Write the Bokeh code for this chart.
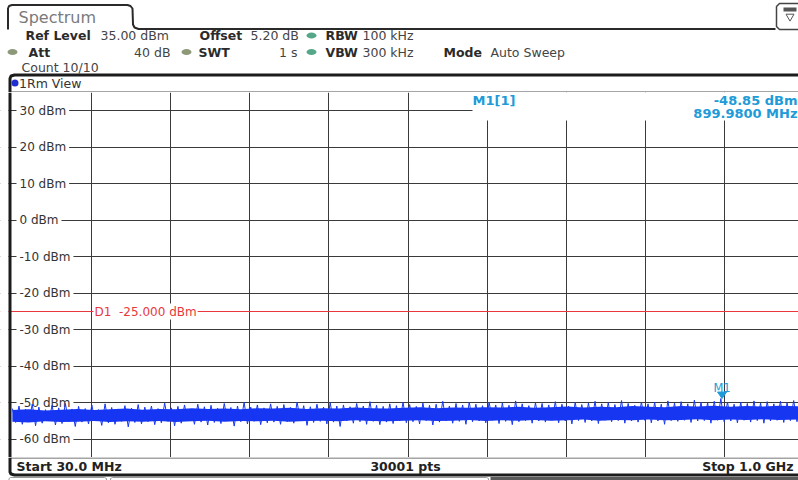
import numpy as np
from bokeh.plotting import figure
from bokeh.layouts import column
from bokeh.models import Range1d, FixedTicker
from bokeh.core.properties import value
from bokeh.embed import file_html
from bokeh.resources import INLINE

# ---------------- data ----------------
START_MHZ = 30.0
STOP_MHZ = 1000.0
SWEEP_POINTS = 30001
REF_LEVEL = 35.0
OFFSET_DB = 5.20
RBW_KHZ = 100
VBW_KHZ = 300
ATT_DB = 40
SWT_S = 1
COUNT = "10/10"
D1_LEVEL = -25.0
MARKER_FREQ = 899.98
MARKER_LEVEL = -48.85

y_tick_values = [30, 20, 10, 0, -10, -20, -30, -40, -50, -60]
y_tick_labels = ["30 dBm", "20 dBm", "10 dBm", "0 dBm", "-10 dBm", "-20 dBm",
                 "-30 dBm", "-40 dBm", "-50 dBm", "-60 dBm"]

# dense core of the noise band (MHz, dBm)
core_freq = [30, 50, 70, 90, 110, 130, 150, 170, 190, 210, 230, 250, 270, 290, 310,
             330, 350, 370, 390, 410, 430, 450, 470, 490, 510, 530, 550, 570, 590,
             610, 630, 650, 670, 690, 710, 730, 750, 770, 790, 810, 830, 850, 870,
             890, 910, 930, 950, 970, 1000]
core_upper = [-52.0, -51.8, -52.1, -51.9, -51.7, -52.0, -51.8, -51.6, -51.9, -51.7,
              -51.8, -51.5, -51.7, -51.6, -51.8, -51.5, -51.6, -51.4, -51.7, -51.5,
              -51.6, -51.3, -51.5, -51.6, -51.4, -51.2, -51.5, -51.3, -51.4, -51.2,
              -51.3, -51.1, -51.4, -51.2, -51.0, -51.3, -51.1, -51.2, -50.9, -51.1,
              -51.2, -50.9, -51.0, -50.8, -51.1, -50.9, -51.0, -50.8, -51.0]
core_lower = [-55.2, -55.4, -55.1, -55.3, -55.2, -55.0, -55.3, -55.1, -55.2, -55.0,
              -55.3, -55.1, -54.9, -55.2, -55.0, -55.1, -54.9, -55.2, -55.0, -54.9,
              -55.1, -54.8, -55.0, -55.1, -54.9, -54.8, -55.0, -54.9, -54.7, -55.0,
              -54.8, -54.9, -54.7, -54.9, -54.8, -54.6, -54.9, -54.7, -54.8, -54.6,
              -54.8, -54.7, -54.5, -54.8, -54.6, -54.7, -54.5, -54.7, -54.6]

# trace samples (peaks and dips of the noise, left to right)
trace_levels = [
    -51.6, -55.4, -50.9, -55.9, -51.8, -55.1, -50.4, -56.3, -51.2, -55.6, -51.9, -55.0, -50.7, -56.1, -51.4, -55.7, -50.2, -55.2, -51.7, -56.5,
    -51.0, -55.3, -51.6, -55.8, -50.6, -55.0, -51.9, -56.2, -50.3, -55.5, -51.3, -55.9, -51.7, -55.1, -50.8, -56.6, -51.5, -55.4, -50.5, -55.8,
    -51.2, -55.2, -50.9, -56.0, -51.6, -55.5, -50.1, -55.1, -51.4, -56.3, -51.0, -55.6, -50.6, -55.0, -51.8, -55.9, -50.4, -55.3, -51.1, -56.1,
    -50.7, -55.4, -51.5, -55.7, -50.2, -55.0, -51.3, -56.4, -50.9, -55.2, -49.9, -55.8, -51.2, -55.1, -50.6, -56.0, -51.4, -55.5, -50.3, -55.3,
    -51.0, -55.9, -50.5, -55.2, -51.3, -55.6, -49.8, -55.0, -50.8, -56.2, -51.1, -55.4, -50.4, -55.1, -51.2, -55.8, -50.0, -55.3, -50.9, -56.5,
    -50.6, -55.0, -51.1, -55.6, -50.2, -55.2, -50.9, -55.9, -49.7, -55.1, -50.7, -56.0, -51.0, -55.3, -50.3, -55.7, -50.8, -55.0, -49.9, -55.5,
    -50.5, -55.2, -51.0, -55.8, -50.1, -54.9, -50.7, -56.1, -50.4, -55.3, -49.6, -55.0, -50.9, -55.6, -50.2, -55.1, -50.6, -55.9, -49.8, -55.2,
    -50.4, -55.0, -50.8, -55.5, -49.9, -54.8, -50.6, -55.7, -50.1, -55.1, -50.7, -56.0, -49.5, -55.2, -50.3, -54.9, -50.8, -55.6, -50.0, -55.0,
    -50.2, -55.3, -50.6, -54.8, -49.7, -55.5, -50.4, -55.0, -50.9, -55.8, -49.9, -54.9, -50.5, -55.4, -50.1, -55.0, -49.6, -55.7, -50.3, -54.8,
    -50.0, -55.2, -50.5, -54.9, -49.4, -55.6, -50.2, -55.0, -50.7, -55.3, -49.8, -54.8, -50.3, -55.5, -49.9, -55.0, -50.4, -55.9, -49.5, -54.9,
    -50.1, -55.1, -49.7, -54.8, -50.3, -55.4, -49.3, -55.0, -49.9, -54.9, -50.0, -55.6, -49.6, -54.8, -48.85, -55.2, -49.8, -55.0, -50.4, -55.5,
    -49.9, -54.8, -50.2, -55.3, -49.5, -54.9, -50.1, -55.6, -49.7, -55.0, -50.3, -54.8, -49.6, -55.4, -50.0, -54.9, -49.4, -55.2, -50.2, -55.0,
]

# ---------------- styling ----------------
FONT = value("DejaVu Sans")
W = 798
BLUE = "#1636f2"
MK_BLUE = "#219bd8"
RED = "#e8383d"
GRID = "#3a3a3a"
DARK = "#1c1c1c"

# screen layout of the main diagram (page pixels)
PX_DIV = 79.125              # px per horizontal division (10 divisions)
PX_30 = 11.875               # page x of the start frequency
FRAME_T, FRAME_B = 92, 457
PX_PER_DB = (FRAME_B - FRAME_T) / 100.0
MHZ_PER_PX = (STOP_MHZ - START_MHZ) / (10 * PX_DIV)


def px2x(px):
    return START_MHZ + (px - PX_30) * MHZ_PER_PX


def py2y(py):
    return REF_LEVEL - (py - FRAME_T) / PX_PER_DB


def txt(p, xs, ys, texts, size, color, bold=False, align="left", baseline="middle", **kw):
    p.text(x=xs, y=ys, text=texts, text_font=FONT, text_font_size=size,
           text_color=color, text_font_style="bold" if bold else "normal",
           text_align=align, text_baseline=baseline, **kw)


def deco_fig(height, y0, y1):
    f = figure(width=W, height=height, x_range=Range1d(0, W), y_range=Range1d(y1, y0),
               x_axis_location=None, y_axis_location=None, toolbar_location=None,
               output_backend="svg", min_border=0, outline_line_color=None,
               background_fill_color="white", border_fill_color="white")
    f.grid.visible = False
    return f


# ---------------- header (page y 0..92) ----------------
hdr = deco_fig(FRAME_T, 0, FRAME_T)
# tab outline
hdr.line([7.5, 7.5, 8.5, 11.5, 127, 130, 132, 132.5, 134, 138, 775],
         [29, 8, 5.5, 4.5, 4.5, 5.5, 8, 24, 27, 28.5, 28.5], line_color="#2a2a2a", line_width=2)
txt(hdr, [18], [16.5], ["Spectrum"], "16px", "#7a7a7a")
# icon box at top right
hdr.line([800, 779, 776, 776, 779, 800], [29, 29, 26, 6, 3, 3], line_color="#444", line_width=1.5)
hdr.quad(left=[783], right=[796], top=[7], bottom=[11], fill_color="#555", line_color=None)
hdr.scatter([789.5], [16], marker="inverted_triangle", size=8, fill_color=None, line_color="#555")

bold_items = [("Ref Level", 25, 35), ("Offset", 199, 35), ("RBW", 325, 35),
              ("Att", 28, 51.5), ("SWT", 198, 51.5), ("VBW", 325, 51.5), ("Mode", 443, 51.5)]
txt(hdr, [b[1] for b in bold_items], [b[2] for b in bold_items], [b[0] for b in bold_items],
    "12.5px", "#2b2b2b", bold=True)
left_vals = [(f"{REF_LEVEL:.2f} dBm", 100, 35), (f"{OFFSET_DB:.2f} dB", 250, 35),
             (f"{RBW_KHZ} kHz", 362, 35), (f"{VBW_KHZ} kHz", 362, 51.5),
             ("Auto Sweep", 490, 51.5), (f"Count {COUNT}", 21, 67)]
txt(hdr, [v[1] for v in left_vals], [v[2] for v in left_vals], [v[0] for v in left_vals],
    "12.5px", "#444444")
right_vals = [(f"{ATT_DB} dB", 170, 51.5), (f"{SWT_S} s", 297, 51.5)]
txt(hdr, [v[1] for v in right_vals], [v[2] for v in right_vals], [v[0] for v in right_vals],
    "12.5px", "#444444", align="right")
hdr.ellipse(x=[311, 12, 186, 311], y=[35, 51.5, 51.5, 51.5], width=10, height=6,
            fill_color=["#56a78a", "#8c9878", "#8c9878", "#56a78a"], line_color=None)
# diagram box top + left border + title row
hdr.line([9.5, 9.5, 10.5, 14, 798], [92, 78, 75.5, 74.5, 74.5], line_color=DARK, line_width=3)
hdr.line([10, 798], [91.5, 91.5], line_color="#4a4a4a", line_width=1)
hdr.scatter([14.5], [82.5], marker="circle", size=7, fill_color="#1f2fd0", line_color=None)
txt(hdr, [18.5], [82.5], ["1Rm View"], "12.5px", "#333333")

# ---------------- main diagram (page y 92..457) ----------------
main = figure(width=W, height=FRAME_B - FRAME_T,
              x_range=Range1d(px2x(0), px2x(W)),
              y_range=Range1d(REF_LEVEL - 100, REF_LEVEL),
              x_axis_location=None, y_axis_location=None, toolbar_location=None,
              output_backend="svg", min_border=0, border_fill_color="white",
              background_fill_color="white", outline_line_color=None)
div = (STOP_MHZ - START_MHZ) / 10
main.xgrid.ticker = FixedTicker(ticks=[START_MHZ + k * div for k in range(1, 10)])
main.ygrid.ticker = FixedTicker(ticks=y_tick_values)
for g in (main.xgrid, main.ygrid):
    g.grid_line_color = GRID
    g.grid_line_width = 1
    g.grid_line_alpha = 1

# marker readout box (hides the grid behind it)
main.quad(left=[px2x(472)], right=[STOP_MHZ], top=[REF_LEVEL], bottom=[py2y(120)],
          fill_color="white", line_color=None)

# level labels inside the diagram
txt(main, [START_MHZ] * len(y_tick_values), y_tick_values, y_tick_labels, "12px", "#333333",
    x_offset=16 - PX_30, background_fill_color="white", padding=3)

# display line D1
main.hspan(y=[D1_LEVEL], line_color=RED, line_width=1)
txt(main, [START_MHZ + div], [D1_LEVEL], [f"D1\u00a0\u00a0{D1_LEVEL:.3f} dBm"], "12px", RED,
    x_offset=2, background_fill_color="white", padding=1)

# page margin (white) and left border of the diagram box (dark)
main.quad(left=[px2x(0)], right=[px2x(8)], top=[REF_LEVEL], bottom=[REF_LEVEL - 100],
          fill_color="white", line_color=None)
main.quad(left=[px2x(8)], right=[px2x(11)], top=[REF_LEVEL], bottom=[REF_LEVEL - 100],
          fill_color=DARK, line_color=None)

# trace
trace_freq = np.linspace(START_MHZ, STOP_MHZ, len(trace_levels))
main.varea(x=core_freq, y1=core_lower, y2=core_upper, fill_color=BLUE)
main.line(trace_freq, trace_levels, line_color=BLUE, line_width=1)

# marker M1
dx = 4.5 * MHZ_PER_PX
dy = 6.5 / PX_PER_DB
main.patch([MARKER_FREQ - dx, MARKER_FREQ + dx, MARKER_FREQ],
           [MARKER_LEVEL + dy, MARKER_LEVEL + dy, MARKER_LEVEL],
           fill_color=MK_BLUE, line_color=MK_BLUE)
txt(main, [MARKER_FREQ], [MARKER_LEVEL], ["M1"], "11.5px", MK_BLUE, align="center",
    baseline="alphabetic", y_offset=-11)

# marker readout
txt(main, [px2x(472)], [py2y(100)], ["M1[1]"], "13px", MK_BLUE, bold=True)
txt(main, [px2x(797)], [py2y(100)], [f"{MARKER_LEVEL:.2f} dBm"], "13px", MK_BLUE, bold=True,
    align="right")
txt(main, [px2x(797)], [py2y(113)], [f"{MARKER_FREQ:.4f} MHz"], "13px", MK_BLUE, bold=True,
    align="right")

# ---------------- footer (page y 457..480) ----------------
ftr = deco_fig(480 - FRAME_B, FRAME_B, 480)
ftr.line([10, 798], [457.5, 457.5], line_color="#4a4a4a", line_width=1)
ftr.line([9.5, 9.5, 10.5, 14, 798], [457, 471.5, 473.5, 474.5, 474.5], line_color=DARK, line_width=3)
txt(ftr, [16], [465.5], [f"Start {START_MHZ:.1f} MHz"], "12.5px", "#222222", bold=True)
txt(ftr, [405], [465.5], [f"{SWEEP_POINTS} pts"], "12.5px", "#222222", bold=True, align="center")
txt(ftr, [793], [465.5], [f"Stop {STOP_MHZ / 1000:.1f} GHz"], "12.5px", "#222222", bold=True,
    align="right")
ftr.quad(left=[490], right=[798], top=[476.5], bottom=[480], fill_color="#5a5a5a", line_color=None)
ftr.line([8.5, 8.5, 10, 104, 106, 106], [480, 478, 477, 477, 478, 480], line_color="#9a9a9a", line_width=1)
ftr.line([110, 110, 112, 486, 488, 488], [480, 478, 477, 477, 478, 480], line_color="#9a9a9a", line_width=1)

layout = column(hdr, main, ftr, spacing=0)
open("out.html", "w").write(file_html(layout, INLINE))
